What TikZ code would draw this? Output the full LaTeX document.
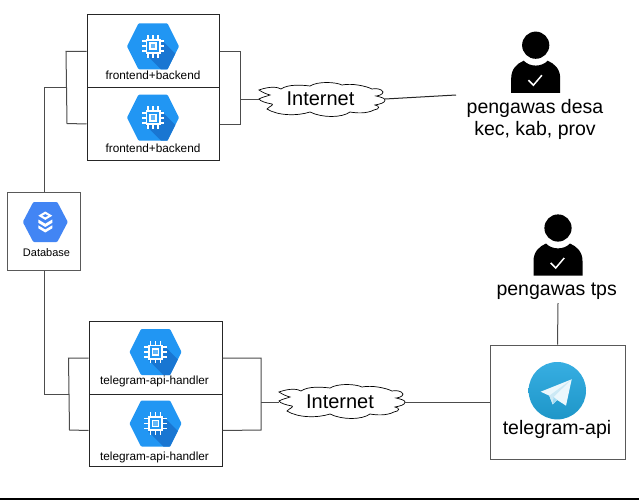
\documentclass[tikz,border=0pt]{standalone}
\usepackage{fontspec}
\setmainfont{Liberation Sans}
\definecolor{hexblue}{HTML}{2196F3}
\definecolor{hexshade}{HTML}{1976D2}
\definecolor{dbblue}{HTML}{4285F4}
\definecolor{tgtop}{HTML}{37AEE2}
\definecolor{tgbot}{HTML}{1E96C8}
\tikzset{
  box/.style={draw=black!85,line width=1pt,inner sep=0pt,minimum width=#1},
  conn/.style={draw=black!70,line width=1pt},
  small/.style={font=\fontsize{11.8}{13}\selectfont,inner sep=0pt},
  big/.style={font=\fontsize{19.5}{22}\selectfont,inner sep=0pt,align=center},
  nettext/.style={font=\fontsize{20}{22}\selectfont,inner sep=0pt},
  pics/chiphex/.style={code={
    \path[fill=hexblue,rounded corners=1pt] (-26,0)--(-14.5,-23)--(14.5,-23)--(26,0)--(14.5,23)--(-14.5,23)--cycle;
    \begin{scope}
      \clip (-26,0)--(-14.5,-23)--(14.5,-23)--(26,0)--(14.5,23)--(-14.5,23)--cycle;
      \fill[hexshade] (7.5,-7.5)--(38,23)--(38,30)--(8,30)--(8,23)--(-7.5,7.5)--cycle;
    \end{scope}
    \fill[white] (-7.5,-7.5) rectangle (7.5,7.5);
    \fill[hexblue] (-5.7,-5.7) rectangle (5.7,5.7);
    \fill[white] (-3.8,-3.8) rectangle (3.8,3.8);
    \fill[hexblue!70!white] (-2.2,-2.2) rectangle (2.2,2.2);
    \foreach \p in {-5,0,5}{
      \fill[white] (\p-0.9,-11.3) rectangle (\p+0.9,-7);
      \fill[white] (\p-0.9,7) rectangle (\p+0.9,11.3);
      \fill[white] (-11.3,\p-0.9) rectangle (-7,\p+0.9);
      \fill[white] (7,\p-0.9) rectangle (11.3,\p+0.9);
    }
  }},
  pics/dbhex/.style={code={
    \path[fill=dbblue,rounded corners=1pt] (-22.5,0)--(-12,-20)--(12,-20)--(22.5,0)--(12,20)--(-12,20)--cycle;
    \fill[white] (0,-10.5)--(7,-6.3)--(0,-2.1)--(-7,-6.3)--cycle;
    \fill[dbblue] (0,-7.8)--(2.8,-6.3)--(0,-4.8)--(-2.8,-6.3)--cycle;
    \fill[white] (-7,-2.5)--(0,1.7)--(7,-2.5)--(7,0.8)--(0,5)--(-7,0.8)--cycle;
    \fill[white] (-7,3.3)--(0,7.5)--(7,3.3)--(7,6.3)--(0,10.5)--(-7,6.3)--cycle;
  }},
  pics/personico/.style={code={
    \fill[black] (0,0) circle (13.6);
    \fill[black] (-24.5,47.7)--(-24.5,33) .. controls (-24.5,24) and (-19,18.5) .. (-12,15.5)
      .. controls (-6,22) and (6,22) .. (12,15.5)
      .. controls (19,18.5) and (24.5,24) .. (24.5,33)--(24.5,47.7)--cycle;
    \draw[white,line width=1.5pt] (-7.3,35)--(-2.3,40)--(6.2,30);
  }},
}
\newcommand{\cloudline}[1]{%
  \draw[black,line width=0.7pt,fill=white,shift={(#1)}]
    (-63,-10) .. controls (-52,-14) and (-44,-13) .. (-41,-11)
    .. controls (-34,-16) and (-20,-15) .. (-12,-14)
    .. controls (-4,-19) and (14,-18) .. (20,-15)
    .. controls (30,-17) and (44,-14) .. (50,-11)
    .. controls (54,-12) and (60,-11) .. (61,-8)
    .. controls (61,-5) and (55,-4) .. (54,-4)
    .. controls (58,-3) and (63,-2) .. (63,0)
    .. controls (63,3) and (58,4) .. (53,5)
    .. controls (58,6) and (58,9) .. (52,10)
    .. controls (44,14) and (34,13) .. (28,12)
    .. controls (20,18) and (0,18) .. (-12,12)
    .. controls (-24,16) and (-44,16) .. (-55,9)
    .. controls (-52,6) and (-48,5) .. (-50,4)
    .. controls (-56,3) and (-62,1) .. (-63,-1)
    .. controls (-60,-3) and (-54,-4) .. (-52,-5)
    .. controls (-56,-6) and (-60,-8) .. (-63,-10) -- cycle;}
\begin{document}
\begin{tikzpicture}[x=1pt,y=-1pt]
\useasboundingbox (0,0) rectangle (639,500);
\fill[white] (0,0) rectangle (639,500);
\fill[black] (0,497.5) rectangle (639,500);

% boxes
\node[box=132pt,minimum height=73pt] (fb1) at (153,51.5) {};
\node[box=132pt,minimum height=72pt] (fb2) at (153,124) {};
\node[box=133pt,minimum height=72.5pt] (th1) at (155.5,358) {};
\node[box=133pt,minimum height=72.5pt] (th2) at (155.5,430.5) {};
\node[box=72.5pt,minimum height=78pt,draw=black!65] (db) at (44,231) {};
\node[box=135pt,minimum height=114pt,draw=black!65] (tg) at (557.5,402) {};

% icons
\pic at (153,46.3) {chiphex};
\pic at (153,117.7) {chiphex};
\pic at (155.5,352) {chiphex};
\pic at (155.5,423.5) {chiphex};
\pic at (45.3,222) {dbhex};

% box labels
\node[small] (l1) at (153,75.5) {frontend+backend};
\node[small] (l2) at (153,148.5) {frontend+backend};
\node[small] (l3) at (154.5,381.5) {telegram-api-handler};
\node[small] (l4) at (154.5,457) {telegram-api-handler};
\node[font=\fontsize{11}{13}\selectfont,inner sep=0pt] (l5) at (46.5,252.5) {Database};

% clouds
\cloudline{322,100}
\cloudline{342,402}
\node[nettext] (net1) at (320.5,99) {Internet};
\node[nettext] (net2) at (340,401.5) {Internet};
\coordinate (n1w) at (259,100);
\coordinate (n1e) at (385,99);
\coordinate (n2w) at (279,402);
\coordinate (n2e) at (405,402);

% bracket points
\coordinate (a1) at (66,51.5);
\coordinate (a2) at (67,123.5);
\coordinate (am) at (66.5,87.5);
\coordinate (b1) at (240.5,51.5);
\coordinate (b2) at (240.5,124);
\coordinate (bm) at (240.5,100);
\coordinate (c1) at (68.5,358);
\coordinate (c2) at (69.5,430);
\coordinate (cm) at (69,394);
\coordinate (d1) at (261,358);
\coordinate (d2) at (261,430);
\coordinate (dm) at (261,402);
\coordinate (u1) at (456,95);
\coordinate (u2) at (558,303);

\draw[conn] (db.north) |- (am);
\draw[conn] (db.south) |- (cm);
\draw[conn] (fb1.west) -- (a1) -- (a2) -- (fb2.west);
\draw[conn] (fb1.east) -- (b1) -- (b2) -- (fb2.east);
\draw[conn] (th1.west) -- (c1) -- (c2) -- (th2.west);
\draw[conn] (th1.east) -- (d1) -- (d2) -- (th2.east);
\draw[conn] (bm) -- (n1w);
\draw[conn] (dm) -- (n2w);
\draw[conn,draw=black!85] (n1e) -- (u1);
\draw[conn] (n2e) -- (tg.west);
\draw[conn] (u2) -- (tg.north);

% people
\pic at (535.7,45.2) {personico};
\pic at (558,228) {personico};
\node[big] (p1) at (535,119) {pengawas desa\\kec, kab, prov};
\node[big] (p2) at (556.7,291.5) {pengawas tps};

% telegram logo
\shade[top color=tgtop,bottom color=tgbot] (557.3,390.7) circle (28.7);
\fill[white!90!tgtop] (571.7,379.3)--(540.7,391.7)--(549.3,395.7)--(552.7,404.3)--(557.3,400)--(566,405.7)--cycle;
\fill[black!5!tgtop!25!white] (571.7,379.3)--(549.3,395.7)--(552.7,404.3)--(553.5,397)--cycle;
\fill[tgtop!45!white] (552.7,404.3)--(553.5,397)--(557.3,400)--cycle;
\node[big] (l6) at (557,429) {telegram-api};
\end{tikzpicture}
\end{document}
